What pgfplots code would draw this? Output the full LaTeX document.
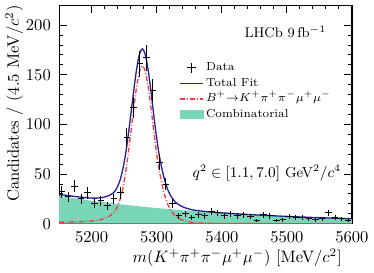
\documentclass[border=0pt]{standalone}
\usepackage{pgfplots}
\pgfplotsset{compat=1.18}
\definecolor{fitblue}{RGB}{36,36,150}
\definecolor{sigred}{RGB}{245,60,60}
\definecolor{combgreen}{RGB}{122,214,184}
\tikzset{sigstyle/.style={draw=sigred, color=sigred, line width=0.8pt, dash pattern=on 3pt off 1.2pt on 0.6pt off 1.2pt},
         totstyle/.style={draw=fitblue, color=fitblue, line width=0.8pt, solid}}
\begin{document}
\begin{tikzpicture}
\begin{axis}[
  scale only axis,
  width=177pt, height=132pt,
  xmin=5150, xmax=5600, ymin=0, ymax=220,
  enlargelimits=false,
  xtick={5200,5300,5400,5500,5600},
  ytick={0,50,100,150,200},
  minor x tick num=4, minor y tick num=4,
  tick align=inside, xtick pos=both, ytick pos=both,
  major tick length=4.8pt, minor tick length=2.4pt,
  every tick/.style={black, line width=0.6pt},
  axis line style={line width=0.7pt},
  xticklabel style={yshift=-1.5pt, /pgf/number format/1000 sep={}},
  yticklabel style={xshift=-1.5pt},
  xlabel={$m(K^+\pi^+\pi^-\mu^+\mu^-)$ [MeV$/c^2$]},
  ylabel={Candidates / (4.5 MeV$/c^2$)},
  xlabel style={at={(axis description cs:0.608,0)}, anchor=center, yshift=-20.7pt},
  ylabel style={at={(axis description cs:-0.153,0.55)}, anchor=center},
  clip=true,
  legend cell align=left,
  legend style={at={(axis description cs:0.41,0.745)}, anchor=north west, draw=none, fill=none,
    font=\fontsize{7}{8}\selectfont, inner sep=0pt, row sep=2pt,
    nodes={inner xsep=1.2pt, inner ysep=0.5pt, text height=5pt, text depth=1.5pt}},
]
% combinatorial background
\addplot[fill=combgreen, draw=none, forget plot] coordinates {
(5150,28.0) (5200,23.12) (5250,19.09) (5300,15.76) (5350,13.02) (5400,10.75)
(5450,8.88) (5500,7.33) (5550,6.05) (5600,5.00)} \closedcycle;
% signal
\addplot[sigstyle, smooth, forget plot] coordinates {
(5150,1.5) (5178,2.0) (5198,2.6) (5208,3.4) (5218,5.0) (5228,8.0) (5233,10.5) (5238,15) (5243,23)
(5248,36) (5253,55) (5258,80) (5263,107) (5268,133) (5273,152) (5278,159) (5283,152) (5288,133)
(5293,107) (5298,80) (5303,57) (5308,40) (5313,27) (5318,18) (5323,12) (5328,8) (5338,4)
(5348,2) (5358,1) (5378,0.4) (5400,0.2) (5450,0.1) (5500,0.05) (5600,0.02)};
% total fit
\addplot[totstyle, smooth, forget plot] coordinates {
(5150,29.5) (5178,27.15) (5198,25.9) (5208,25.82) (5218,26.58) (5228,28.77) (5233,30.88) (5238,34.99)
(5243,42.61) (5248,55.24) (5253,73.87) (5258,98.52) (5263,125.16) (5268,150.82) (5273,169.48)
(5278,176.15) (5283,168.82) (5288,149.51) (5293,123.19) (5298,95.88) (5303,72.58) (5308,55.29)
(5313,42.0) (5318,32.71) (5323,26.43) (5328,22.16) (5338,17.63) (5348,15.12) (5358,13.63)
(5378,12.09) (5400,10.95) (5450,8.98) (5500,7.38) (5550,6.08) (5600,5.02)};
% data
\addplot[draw=none, mark=none, forget plot,
  error bars/.cd, x dir=both, x explicit, y dir=both, y explicit,
  error mark=none, error bar style={draw=black, line width=0.6pt, solid}]
table[x=m, y=n, x error=ex, y error=ey] {
m n ex ey
5154 32 5 5.7
5164 27 5 5.2
5174 38 5 6.2
5184 25 5 5.0
5194 31 5 5.6
5204 20 5 4.5
5214 23 5 4.8
5224 18 5 4.2
5234 25 5 5.0
5244 31 5 5.6
5254 87 5 9.3
5264 117 5 10.8
5274 161 5 12.7
5284 167 5 12.9
5294 134 5 11.6
5304 62 5 7.9
5314 40 5 6.3
5324 20 5 4.5
5334 8 5 2.8
5344 10 5 3.2
5354 6 5 2.4
5364 9 5 3.0
5374 8 5 2.8
5384 12 5 3.5
5394 11 5 3.3
5404 8 5 2.8
5414 10 5 3.2
5424 8 5 2.8
5434 9 5 3.0
5444 7 5 2.6
5454 3 5 1.7
5464 9 5 3.0
5474 8 5 2.8
5484 3 5 1.7
5494 4 5 2.0
5504 7 5 2.6
5514 6 5 2.4
5524 6 5 2.4
5534 5 5 2.2
5544 4 5 2.0
5554 5 5 2.2
5564 11 5 3.3
5574 6 5 2.4
5584 5 5 2.2
5594 3 5 1.7
};
\addlegendimage{legend image code/.code={
  \draw[black,line width=0.6pt,solid] (0.135cm,0cm) -- (0.345cm,0cm);
  \draw[black,line width=0.6pt,solid] (0.24cm,-0.105cm) -- (0.24cm,0.105cm);}}
\addlegendentry{Data}
\addlegendimage{totstyle, legend image code/.code={\draw[totstyle, line width=0.9pt] (0cm,0cm) -- (0.49cm,0cm);}}
\addlegendentry{Total Fit}
\addlegendimage{sigstyle, legend image code/.code={\draw[sigstyle, line width=0.9pt] (0cm,0cm) -- (0.49cm,0cm);}}
\addlegendentry{$B^{+}{\rightarrow}K^{+}\pi^{+}\pi^{-}\mu^{+}\mu^{-}$}
\addlegendimage{legend image code/.code={\fill[combgreen] (0cm,-0.085cm) rectangle (0.49cm,0.085cm);}}
\addlegendentry{Combinatorial}
\node[anchor=east, font=\fontsize{8.5}{10}\selectfont] at (axis description cs:0.932,0.878) {LHCb 9\,fb$^{-1}$};
\node[anchor=east, font=\fontsize{8.7}{10}\selectfont] at (axis description cs:0.983,0.233) {$q^2\in[1.1, 7.0]$ GeV$^2/c^4$};
\end{axis}
\end{tikzpicture}
\end{document}
